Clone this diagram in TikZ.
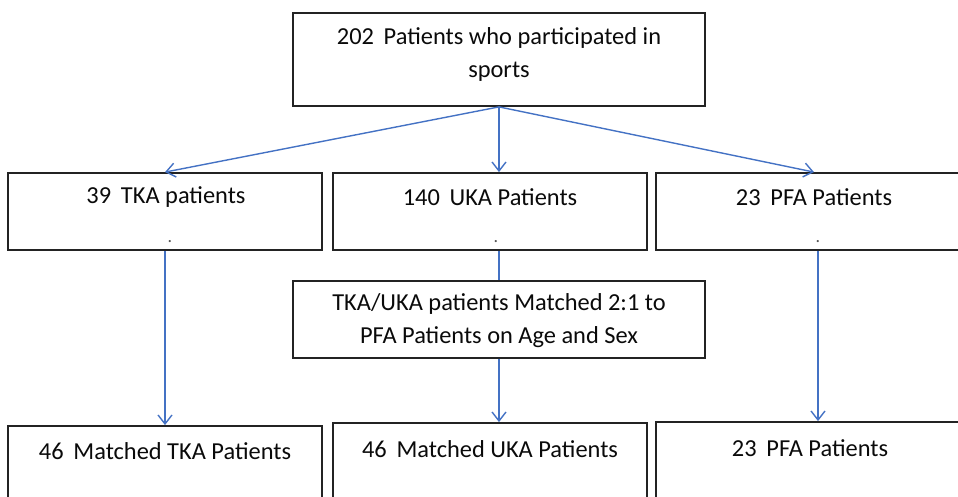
\documentclass[tikz,border=0pt]{standalone}
\usepackage{fontspec}
\setmainfont{Carlito}
\usetikzlibrary{arrows.meta}
\definecolor{arrblue}{RGB}{68,114,196}
\definecolor{boxline}{RGB}{35,35,35}
\definecolor{txt}{RGB}{10,10,10}
\begin{document}
\begin{tikzpicture}[x=1pt,y=-1pt,
  box/.style={draw=boxline,line width=1.8pt,rectangle,inner sep=0pt},
  lbl/.style={inner sep=0pt,align=center,text=txt,font=\fontsize{24.4}{33}\selectfont},
  dotlbl/.style={inner sep=0pt,text=txt!70,font=\fontsize{18}{18}\selectfont},
  conn/.style={draw=arrblue,line width=1.4pt},
  arr/.style={conn,-{Straight Barb[length=9pt,width=14pt]}}]
\useasboundingbox (0,0) rectangle (958,497);
\clip (0,0) rectangle (958,497);
% boxes
\node[box,minimum width=412pt,minimum height=93pt] (top) at (499,59.5) {};
\node[box,minimum width=314pt,minimum height=77pt] (b1) at (165,211.5) {};
\node[box,minimum width=314pt,minimum height=77pt] (b2) at (490,211.5) {};
\node[box,minimum width=316pt,minimum height=77pt] (b3) at (814,211.5) {};
\node[box,minimum width=412pt,minimum height=77pt] (m) at (499,319.5) {};
\node[box,minimum width=314pt,minimum height=100pt] (c1) at (165,476) {};
\node[box,minimum width=314pt,minimum height=100pt] (c2) at (490,473) {};
\node[box,minimum width=324pt,minimum height=100pt] (c3) at (818,472) {};
% texts
\node[lbl] (ttop) at (499,54) {202\hspace{0.4em}Patients who participated in\\sports};
\node[lbl] (tb1) at (166,197) {39\hspace{0.4em}TKA patients};
\node[lbl] (tb2) at (490,197) {140\hspace{0.4em}UKA Patients};
\node[lbl] (tb3) at (814,197) {23\hspace{0.4em}PFA Patients};
\node[dotlbl] (db1) at (170,242) {.};
\node[dotlbl] (db2) at (496,242) {.};
\node[dotlbl] (db3) at (818,242) {.};
\node[lbl] (tm) at (499,321) {TKA/UKA patients Matched 2:1 to\\PFA Patients on Age and Sex};
\node[lbl] (tc1) at (165,451) {46\hspace{0.4em}Matched TKA Patients};
\node[lbl] (tc2) at (490,449) {46\hspace{0.4em}Matched UKA Patients};
\node[lbl] (tc3) at (810,448) {23\hspace{0.4em}PFA Patients};
% connectors
\draw[arr] (top.south) -- (b1.north);
\draw[arr] (top.south) -- (top.south |- b2.north);
\draw[arr] (top.south) -- (b3.north);
\draw[arr] (b1.south) -- (c1.north);
\draw[conn] (m.north |- b2.south) -- (m.north);
\draw[arr] (m.south) -- (m.south |- c2.north);
\draw[arr] (c3.north |- b3.south) -- (c3.north);
\end{tikzpicture}
\end{document}
